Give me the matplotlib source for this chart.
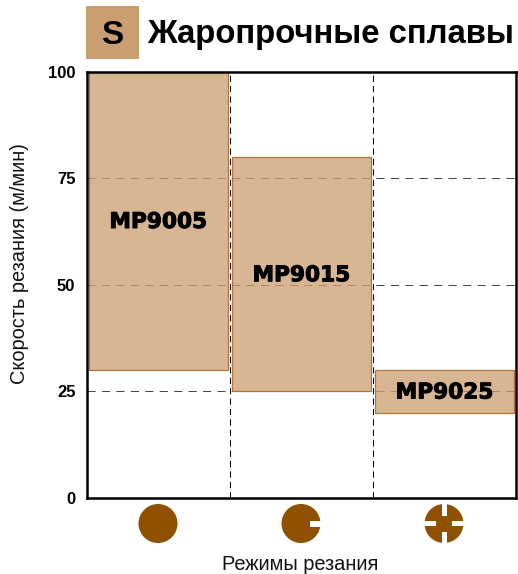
import matplotlib
matplotlib.use("Agg")
import matplotlib.pyplot as plt
import matplotlib.patheffects as pe
from matplotlib.patches import Circle, Rectangle

plt.rcParams['font.family'] = ['Liberation Sans', 'DejaVu Sans']

grades = ["MP9005", "MP9015", "MP9025"]
positions = [0, 1, 2]
speed_low = [30, 25, 20]
speed_high = [100, 80, 30]
y_ticks = [0, 25, 50, 75, 100]
title = "Жаропрочные сплавы"
badge = "S"
x_label = "Режимы резания"
y_label = "Скорость резания (м/мин)"

W, H = 518, 574
BROWN = "#8f5100"
fig = plt.figure(figsize=(W / 100, H / 100), dpi=100, facecolor="white")

L, R, T, B = 86.5, 516, 71.5, 497.8
ax = fig.add_axes([L / W, 1 - B / H, (R - L) / W, (B - T) / H])
ax.set_xlim(0, 3)
ax.set_ylim(0, 100)
for s in ax.spines.values():
    s.set_linewidth(1.8)
    s.set_color("black")
    s.set_zorder(5)

ax.set_axisbelow(True)
ax.set_yticks(y_ticks)
ax.set_yticklabels([str(v) for v in y_ticks], fontsize=12, fontweight="bold")
ax.set_xticks([1, 2])
ax.set_xticklabels([])
ax.tick_params(length=0, pad=8)
ax.xaxis.grid(True, color="black", lw=0.75, ls=(0, (6, 4)))
ax.yaxis.grid(True, color="#333333", lw=0.65, ls=(0, (9, 7)))

for p, lo, hi, g in zip(positions, speed_low, speed_high, grades):
    ax.bar(p + 0.5, hi - lo, bottom=lo, width=0.97,
           facecolor=(0.80, 0.62, 0.44, 0.75), edgecolor="#ad7537", lw=0.9, zorder=3)
    ax.text(p + 0.5, (lo + hi) / 2 - 0.3, g, ha="center", va="center",
            fontsize=15.6, fontweight="bold", zorder=4, family="DejaVu Sans",
            path_effects=[pe.withStroke(linewidth=0.7, foreground="black")])

fig.text(19.5 / W, 1 - 264 / H, y_label, rotation=90, ha="center", va="center", fontsize=14.4, color="#111111")
fig.text(300 / W, 1 - 564.5 / H, x_label, ha="center", va="center", fontsize=14.4, color="#111111")

ov = fig.add_axes([0, 0, 1, 1], facecolor="none")
ov.set_xlim(0, W)
ov.set_ylim(H, 0)
ov.axis("off")
ov.add_patch(Rectangle((86, 6), 53, 53, facecolor="#c99f72", edgecolor="none"))
ov.text(112.5, 35, badge, ha="center", va="center", fontsize=24, fontweight="bold")
ov.text(147, 35, title, ha="left", va="center", fontsize=23.7, fontweight="bold")

cy, r = 523.5, 19.5
for cx in (158, 301, 444):
    ov.add_patch(Circle((cx, cy), r, facecolor=BROWN, edgecolor="none"))
ov.add_patch(Rectangle((309.5, 521), 13, 5.5, facecolor="white", edgecolor="none"))
ov.add_patch(Rectangle((441.5, 503), 5, 12.7, facecolor="white", edgecolor="none"))
ov.add_patch(Rectangle((441.5, 531.7), 5, 12.7, facecolor="white", edgecolor="none"))
ov.add_patch(Rectangle((423, 521), 12.7, 5, facecolor="white", edgecolor="none"))
ov.add_patch(Rectangle((452.3, 521), 12.7, 5, facecolor="white", edgecolor="none"))

fig.savefig("out.png", dpi=100)
